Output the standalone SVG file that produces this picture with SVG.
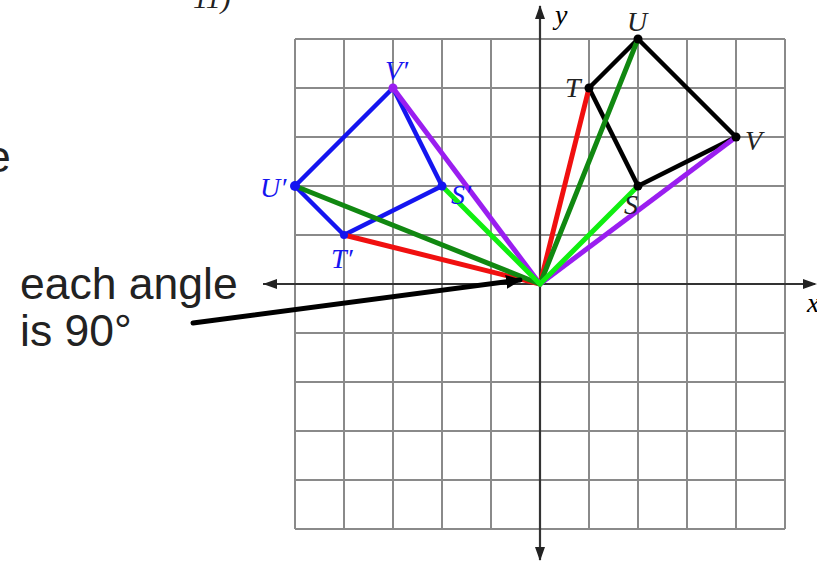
<svg xmlns="http://www.w3.org/2000/svg" width="817" height="564" viewBox="0 0 817 564">
<style>
.grid{stroke:#8a8a8a;stroke-width:2;fill:none}
.axis{stroke:#333;stroke-width:2.2;fill:none}
.lbl{font-family:"Liberation Serif",serif;font-style:italic;font-size:28px}
.blue{fill:#1515f0}
.ray{stroke-width:5;stroke-linecap:round;fill:none}
.poly{stroke-width:4.5;stroke-linejoin:round;fill:none}
.note{font-family:"Liberation Sans",Arial,sans-serif;font-size:44.5px;fill:#222}
</style>
<defs>
<marker id="pa" markerWidth="16" markerHeight="14" refX="14" refY="7" orient="auto" markerUnits="userSpaceOnUse" viewBox="0 0 16 14"><path d="M0,0 L16,7 L0,14 z" fill="#000"/></marker>
</defs>
<rect width="817" height="564" fill="#fff"/>
<text x="193" y="8" font-family="Liberation Serif,serif" font-style="italic" font-size="30" fill="#222">11)</text>
<text x="-14" y="172" class="note" font-size="46">e</text>
<g id="grid" class="grid">
<path d="M295,39V529M344,39V529M393,39V529M442,39V529M491,39V529M589,39V529M638,39V529M687,39V529M736,39V529M785,39V529"/>
<path d="M295,39H785M295,88H785M295,137H785M295,186H785M295,235H785M295,333H785M295,382H785M295,431H785M295,480H785M295,529H785"/>
</g>
<g id="axes">
<line x1="263" y1="284" x2="815" y2="284" class="axis"/>
<path d="M263,284 l14,-5 v10 z M817,284 l-14,-5 v10 z" fill="#222"/>
<line x1="540" y1="6" x2="540" y2="560" class="axis"/>
<path d="M540,5 l-5,14 h10 z M540,561 l-5,-14 h10 z" fill="#222"/>
<text x="555" y="24" class="lbl" font-size="22">y</text>
<text x="807" y="312" class="lbl" font-size="22">x</text>
</g>
<g id="original">
<polygon points="638,39 589,88 638,186 736,137" class="poly" stroke="#000"/>
</g>
<g id="image">
<polygon points="295,186 393,88 442,186 344,235" class="poly" stroke="#1515f0"/>
</g>
<g id="connectors">
<line x1="540" y1="284" x2="589" y2="88" class="ray" stroke="#f01010"/>
<line x1="540" y1="284" x2="344" y2="235" class="ray" stroke="#f01010"/>
<line x1="540" y1="284" x2="638" y2="39" class="ray" stroke="#118811"/>
<line x1="540" y1="284" x2="295" y2="186" class="ray" stroke="#118811"/>
<line x1="540" y1="284" x2="736" y2="137" class="ray" stroke="#9a1ef0"/>
<line x1="540" y1="284" x2="393" y2="88" class="ray" stroke="#9a1ef0"/>
<line x1="540" y1="284" x2="638" y2="186" class="ray" stroke="#10ee10"/>
<line x1="540" y1="284" x2="442" y2="186" class="ray" stroke="#10ee10"/>
<line x1="193" y1="323" x2="520" y2="280" stroke="#000" stroke-width="5" stroke-linecap="round" marker-end="url(#pa)"/>
</g>
<g id="dots">
<circle cx="638" cy="39" r="4.5" fill="#000"/>
<circle cx="589" cy="88" r="4.5" fill="#000"/>
<circle cx="736" cy="137" r="4.5" fill="#000"/>
<circle cx="638" cy="186" r="4.5" fill="#000"/>
<circle cx="295" cy="186" r="5" fill="#1515f0"/>
<circle cx="393" cy="88" r="4.5" fill="#9a1ef0"/>
<circle cx="442" cy="186" r="4.5" fill="#1515f0"/>
<circle cx="344" cy="235" r="4" fill="#1515f0"/>
</g>
<g id="labels">
<text x="627" y="31" class="lbl" fill="#222">U</text>
<text x="565" y="97" class="lbl" fill="#222">T</text>
<text x="745" y="150" class="lbl" fill="#222">V</text>
<text x="624" y="214" class="lbl" fill="#222">S</text>
<text x="385" y="80" class="lbl blue">V′</text>
<text x="260" y="197" class="lbl blue">U′</text>
<text x="451" y="204" class="lbl blue">S′</text>
<text x="331" y="268" class="lbl blue">T′</text>
</g>
<text x="20" y="299" class="note">each angle</text>
<text x="20" y="346" class="note">is 90°</text>
</svg>
